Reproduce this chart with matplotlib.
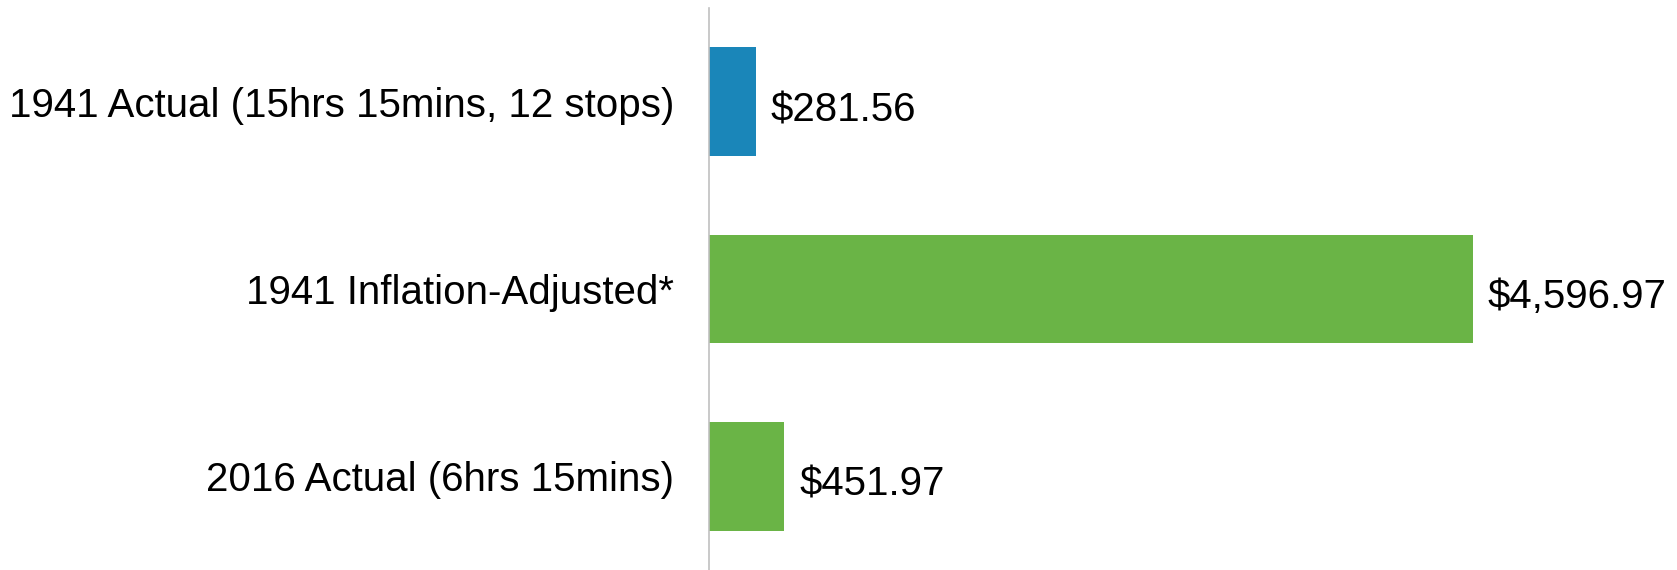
import matplotlib
matplotlib.use("Agg")
import matplotlib.pyplot as plt

categories = ["1941 Actual (15hrs 15mins, 12 stops)", "1941 Inflation-Adjusted*", "2016 Actual (6hrs 15mins)"]
values = [281.56, 4596.97, 451.97]
value_labels = ["$281.56", "$4,596.97", "$451.97"]
colors = ["#1a86b9", "#6ab446", "#6ab446"]

plt.rcParams["font.family"] = ["Liberation Sans", "DejaVu Sans"]

fig = plt.figure(figsize=(16.77, 5.70), dpi=100)
ax = fig.add_axes([709 / 1677, 0.0, 1 - 709 / 1677, 562 / 570])

y = list(range(len(categories)))
ax.barh(y, values, height=0.58, color=colors)
for yi, v, lab in zip(y, values, value_labels):
    ax.text(v + 90, yi + 0.045, lab, va="center", ha="left", fontsize=29)

ax.set_yticks(y)
ax.set_yticklabels(categories, fontsize=29, va="center_baseline")
ax.tick_params(axis="y", length=0, pad=25)
ax.set_ylim(2.5, -0.5)
ax.set_xlim(0, 5825)
ax.set_xticks([])
for s in ["top", "right", "bottom"]:
    ax.spines[s].set_visible(False)
ax.spines["left"].set_color("#c0c0c0")
ax.spines["left"].set_linewidth(1.2)

fig.savefig("out.png", dpi=100)
